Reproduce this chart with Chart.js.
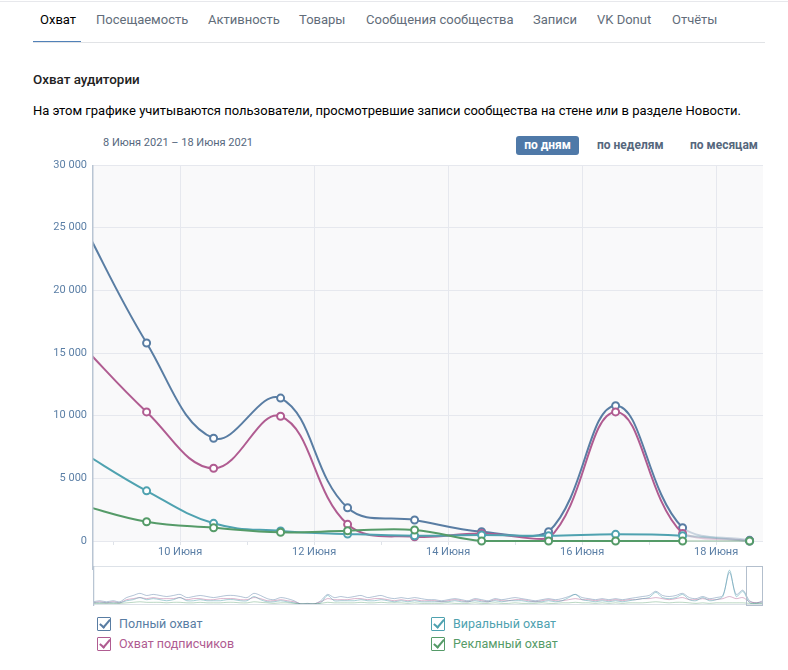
<!DOCTYPE html>
<html><head><meta charset="utf-8">
<script src="https://cdn.jsdelivr.net/npm/chart.js@4.4.0/dist/chart.umd.min.js"></script>
<style>
body{margin:0;background:#fff;font-family:Roboto,"Noto Sans",Arial,sans-serif;}
#page{position:relative;width:788px;height:670px;overflow:hidden;}
#topline{position:absolute;left:0;top:1px;width:788px;height:1px;background:#e7e8ec;}
.abs{position:absolute;white-space:nowrap;}
.tab{position:absolute;top:11px;font-size:13px;line-height:18px;color:#626d7a;white-space:nowrap;}
.tab.active{color:#000;}
#underline{position:absolute;left:33px;top:41px;width:48px;height:2px;background:#5181b8;}
#divider{position:absolute;left:33px;top:42px;width:732px;height:1px;background:#e1e3e6;}
#title{left:33px;top:71px;font-size:13.4px;line-height:18px;font-weight:500;color:#222;}
#desc{left:33px;top:102px;font-size:13px;line-height:18px;color:#000;}
#range{left:103px;top:136px;font-size:11px;line-height:14px;color:#55677d;}
.btn{position:absolute;top:136px;height:19px;line-height:19px;font-size:12px;font-weight:700;color:#55677d;white-space:nowrap;}
.btn.sel{background:#4f79a8;color:#fff;border-radius:3px;text-align:center;}
#main{position:absolute;left:0;top:150px;width:788px;height:420px;}
#nav{position:absolute;left:93px;top:566px;width:670px;height:40px;}
.leg{position:absolute;height:16px;font-size:12.5px;line-height:16px;white-space:nowrap;}
.leg .box{position:absolute;left:0;top:0;width:12px;height:12px;border:1px solid;border-radius:1px;}
.leg .box::after{content:"";position:absolute;left:4px;top:-1px;width:4px;height:9px;border-right:2px solid;border-bottom:2px solid;border-color:inherit;transform:rotate(40deg);}
.leg .txt{position:absolute;left:22px;top:-1px;}
</style></head>
<body><div id="page">
<div id="topline"></div>
<div id="tabs"></div>
<div id="underline"></div>
<div id="divider"></div>
<div id="title" class="abs">Охват аудитории</div>
<div id="desc" class="abs">На этом графике учитываются пользователи, просмотревшие записи сообщества на стене или в разделе Новости.</div>
<div id="range" class="abs">8 Июня 2021 – 18 Июня 2021</div>
<div class="btn sel" style="left:516px;width:63px;">по дням</div>
<div class="btn" style="left:597px;">по неделям</div>
<div class="btn" style="left:690px;">по месяцам</div>
<canvas id="main" width="788" height="420"></canvas>
<canvas id="nav" width="670" height="40"></canvas>
<div id="legend"></div>
</div>
<script>
// ---- data ----
const tabNames = ['Охват','Посещаемость','Активность','Товары','Сообщения сообщества','Записи','VK Donut','Отчёты'];
const tabLeft = [40,96,208,299,366,533,597,672];

const days = [8.5, 9.5, 10.5, 11.5, 12.5, 13.5, 14.5, 15.5, 16.5, 17.5, 18.5];
const reachTotal       = [25800, 15800, 8200, 11400, 2650, 1680, 740, 740, 10800, 1060, 50];
const reachSubscribers = [15800, 10300, 5800, 9950, 1330, 340, 600, 200, 10300, 600, 0];
const reachViral       = [7200, 4000, 1410, 800, 560, 420, 480, 420, 530, 420, 0];
const reachAds         = [2900, 1540, 1060, 690, 820, 880, 0, 0, 0, 0, 0];

const seriesNames = ['Полный охват','Охват подписчиков','Виральный охват','Рекламный охват'];
const seriesColors = ['#597da3','#b05c91','#4fa2b0','#559b68'];
const fadeColors = ['rgba(89,125,163,0.3)','rgba(176,92,145,0.3)','rgba(79,162,176,0.3)','rgba(85,155,104,0.3)'];
const navColors = ['rgba(89,125,163,0.45)','rgba(176,92,145,0.45)','rgba(79,162,176,0.5)','rgba(85,155,104,0.4)'];

const xTickDays = [9, 10, 11, 12, 13, 14, 15, 16, 17, 18];
const xTickLabels = ['', '10 Июня', '', '12 Июня', '', '14 Июня', '', '16 Июня', '', '18 Июня'];
const yTicks = [0, 5000, 10000, 15000, 20000, 25000, 30000];

// navigator (overview) series
const navTotal = [2,3,2,3,2, 6,8,10,8,9,8, 7,8,9,6,7, 8,7,6,7,8, 8,7,6,10,8, 5,4,6,5,3, 0,0.5,0,
  3,9,6,7,6,7,8,6,7,8,6,5,6,5,6,5,4,
  4,3,4,5,4,3,5,4,3,5,4,5,6,5,4,3,4,5,4,5,
  7,9,6,5,4,5,4,5,4,5, 6,7,8,12,8,7,8,10,6,5, 7,5,6,8,30,9,13,3,1,3];
const navSubscribers = [1,2,1,2,1, 4,5,6,5,6,5, 5,5,6,4,5, 5,4,4,5,5, 5,4,4,6,5, 3,3,4,3,2, 0,0,0,
  2,5,4,4,4,5,5,4,5,5,4,3,4,3,4,3,3,
  3,2,3,4,3,2,4,3,2,4,3,3,4,4,3,2,3,4,3,3,
  4,5,4,4,3,4,3,4,3,4, 4,5,5,6,5,4,5,6,4,4, 5,4,4,5,7,5,6,2,1,2];
const navViral = [1,1,1,1,1, 3,4,6,4,5,4, 3,4,6,3,3, 4,3,3,3,4, 4,3,3,7,4, 2,2,3,2,1, 0,0,0,
  1,8,3,3,3,3,4,3,3,4,3,2,3,2,3,2,2,
  2,2,2,3,2,2,3,2,2,3,2,3,3,3,2,2,2,3,2,3,
  6,9,4,3,2,3,2,3,2,3, 4,5,6,11,6,5,6,9,4,3, 6,3,4,7,32,7,12,1,0.5,1];
const navAds = [0.5,0.5,0.5,0.5,0.5, 1,1.5,2,1.5,1.5,1.5, 1,1.5,1.5,1,1, 1.5,1,1,1,1.5, 1.5,1,1,2,1.5, 1,0.5,1,1,0.5, 0,0,0,
  0.5,1.5,1,1,1,1,1.5,1,1,1.5,1,1,1,0.5,1,0.5,0.5,
  0.5,0.5,1,0.5,0.5,0.5,1,0.5,0.5,1,0.5,0.5,1,0.5,0.5,0.5,1,0.5,0.5,1,
  1,1.5,1,1,0.5,1,0.5,1,0.5,1, 1,1,1.5,2,1.5,1,1.5,1.5,1,0.5, 1,0.5,1,1,1,1,1,0.5,0.5,0.5];

// ---- static html parts ----
const tabs = document.getElementById('tabs');
tabNames.forEach((n,i)=>{
  const d=document.createElement('div'); d.className='tab'+(i===0?' active':'');
  d.style.left=tabLeft[i]+'px'; d.textContent=n; tabs.appendChild(d);
});
const legPos = [[97,617],[97,637],[431,617],[431,637]];
const legOrder = [0,1,2,3];
const legend = document.getElementById('legend');
legOrder.forEach((si,k)=>{
  const d=document.createElement('div'); d.className='leg';
  d.style.left=legPos[k][0]+'px'; d.style.top=legPos[k][1]+'px'; d.style.color=seriesColors[si];
  d.innerHTML='<span class="box" style="border-color:'+seriesColors[si]+'"></span><span class="txt"></span>';
  d.querySelector('.txt').textContent=seriesNames[si];
  legend.appendChild(d);
});

// ---- main chart ----
Chart.defaults.font.family = 'Roboto, "Noto Sans", Arial, sans-serif';
const allSeries = [reachTotal, reachSubscribers, reachViral, reachAds];
const lastIdx = days.length - 1;
const datasets = allSeries.map((vals,si)=>({
  label: seriesNames[si],
  data: days.map((d,i)=>({x:d, y:vals[i]})),
  borderColor: seriesColors[si],
  borderWidth: 2,
  pointRadius: 3.5,
  pointHoverRadius: 3.5,
  pointBorderWidth: 2,
  pointBorderColor: seriesColors[si],
  pointBackgroundColor: '#fff',
  tension: 0.4,
  order: 4 - si,
  clip: {left: 0, top: 5, right: 6, bottom: 8},
  segment: { borderColor: ctx => ctx.p1DataIndex === lastIdx ? fadeColors[si] : undefined }
}));

const fmt = v => String(v).replace(/\B(?=(\d{3})+(?!\d))/g, ' ');

const bgPlugin = {
  id: 'bg',
  beforeDraw(chart){
    const {ctx, chartArea:a} = chart;
    ctx.save(); ctx.fillStyle = '#f9f9fa';
    ctx.fillRect(a.left, a.top, a.right - a.left, a.bottom - a.top);
    ctx.restore();
  },
  afterDraw(chart){
    const {ctx, chartArea:a} = chart;
    ctx.save(); ctx.strokeStyle = '#b9c5d3'; ctx.lineWidth = 1.5;
    ctx.beginPath(); ctx.moveTo(a.left - 0.25, a.top); ctx.lineTo(a.left - 0.25, chart.height); ctx.stroke();
    ctx.strokeStyle = '#dde2e8'; ctx.lineWidth = 1;
    ctx.beginPath(); ctx.moveTo(a.left, chart.height - 3.5); ctx.lineTo(a.right, chart.height - 3.5); ctx.stroke();
    ctx.restore();
  }
};

new Chart(document.getElementById('main'), {
  type: 'line',
  data: { datasets },
  options: {
    responsive: false, animation: false, events: [],
    layout: { padding: { top: 15, right: 25, left: 0, bottom: 0 } },
    plugins: { legend: { display: false }, tooltip: { enabled: false } },
    scales: {
      x: {
        type: 'linear', min: 8.7, max: 18.7,
        afterBuildTicks: s => { s.ticks = xTickDays.map(v => ({value: v})); },
        afterFit: s => { s.height = 29; },
        ticks: {
          callback: (v) => { const i = xTickDays.indexOf(v); return i >= 0 ? xTickLabels[i] : ''; },
          color: '#5b7fa6', font: { size: 11 }, padding: 1, maxRotation: 0, autoSkip: false
        },
        grid: {
          color: c => (c.tick && c.tick.value % 2 === 0) ? '#e6e8ee' : 'rgba(0,0,0,0)',
          tickColor: '#dfe3e9', tickLength: 4, drawTicks: true
        },
        border: { display: false }
      },
      y: {
        min: 0, max: 30000,
        afterBuildTicks: s => { s.ticks = yTicks.map(v => ({value: v})); },
        afterFit: s => { s.width = 93; },
        ticks: { callback: v => fmt(v), color: '#5b7fa6', font: { size: 11 }, padding: 6 },
        grid: { color: '#e6e8ee', drawTicks: false },
        border: { display: false }
      }
    }
  },
  plugins: [bgPlugin]
});

// ---- navigator chart ----
const navAll = [navTotal, navSubscribers, navViral, navAds];
const navPlugin = {
  id: 'navframe',
  afterDraw(chart){
    const {ctx} = chart; const w = chart.width, h = chart.height;
    ctx.save();
    ctx.strokeStyle = '#dde2e8'; ctx.lineWidth = 1;
    ctx.beginPath(); ctx.moveTo(0, h - 1.5); ctx.lineTo(w, h - 1.5); ctx.stroke();
    ctx.strokeStyle = '#b9c5d3'; ctx.lineWidth = 1.5;
    ctx.beginPath(); ctx.moveTo(0.5, 0); ctx.lineTo(0.5, h); ctx.stroke();
    ctx.strokeStyle = '#b3bfcd'; ctx.lineWidth = 1;
    ctx.strokeRect(653.5, 0.5, 16, h - 1);
    ctx.restore();
  }
};
new Chart(document.getElementById('nav'), {
  type: 'line',
  data: { datasets: navAll.map((vals,si)=>({
    data: vals.map((v,i)=>({x:i, y:v})),
    borderColor: navColors[si], borderWidth: 1, pointRadius: 0, tension: 0.3, order: 4 - si
  })) },
  options: {
    responsive: false, animation: false, events: [],
    layout: { padding: 0 },
    plugins: { legend: { display: false }, tooltip: { enabled: false } },
    scales: {
      x: { type: 'linear', min: 0, max: 100, display: false },
      y: { min: -2, max: 36, display: false }
    }
  },
  plugins: [navPlugin]
});
</script>
</body></html>
